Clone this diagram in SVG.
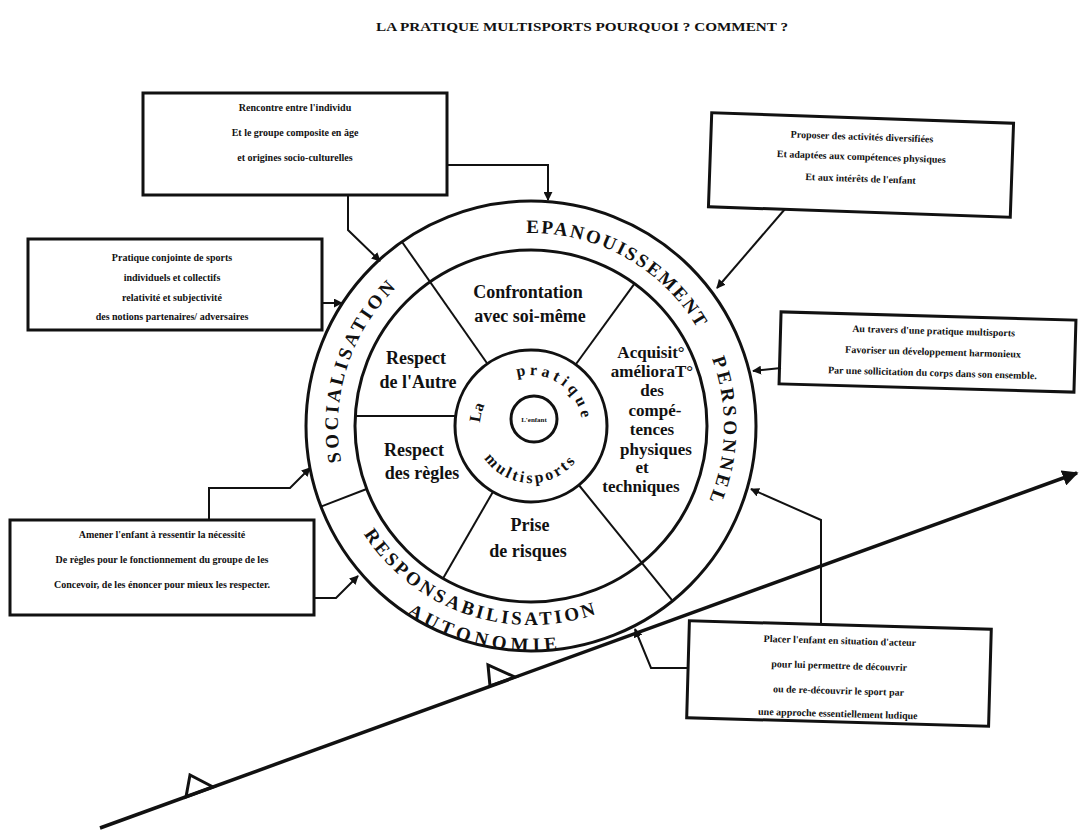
<svg xmlns="http://www.w3.org/2000/svg" width="1082" height="836" viewBox="0 0 1082 836">
<style>
.bg{fill:#fff}
.ring{fill:none;stroke:#111;stroke-width:3}
.dv{stroke:#111;stroke-width:2;fill:none}
.box{fill:#fff;stroke:#111;stroke-width:3}
.conn{fill:none;stroke:#111;stroke-width:2;marker-end:url(#ah)}
.t{font-family:"Liberation Serif","Times New Roman",serif;font-weight:bold;fill:#111}
.bt{font-size:10px;text-anchor:middle}
.sec{font-size:18px;text-anchor:middle}
.sec2{font-size:17px;text-anchor:middle}
.rg{font-size:19px}
.ir{font-size:16px}
</style>
<defs>
<marker id="ah" viewBox="0 0 10 10" refX="9" refY="5" markerWidth="9" markerHeight="9" markerUnits="userSpaceOnUse" orient="auto"><path d="M0,0 L10,5 L0,10 z" fill="#111"/></marker>
<marker id="bah" viewBox="0 0 10 10" refX="9" refY="5" markerWidth="16" markerHeight="16" markerUnits="userSpaceOnUse" orient="auto"><path d="M0,0 L10,5 L0,10 z" fill="#111"/></marker>
<path id="outCW" d="M531,619 A193,193 0 1 1 531,233 A193,193 0 1 1 531,619"/>
<path id="outCCW1" d="M531,227 A199,199 0 1 0 531,625 A199,199 0 1 0 531,227"/>
<path id="outCCW2" d="M531,201 A225,225 0 1 0 531,651 A225,225 0 1 0 531,201"/>
<path id="inCW" d="M531,477 A51,51 0 1 1 531,375 A51,51 0 1 1 531,477"/>
<path id="inCCW" d="M531,369 A57,57 0 1 0 531,483 A57,57 0 1 0 531,369"/>
</defs>
<rect class="bg" x="0" y="0" width="1082" height="836"/>

<text class="t" x="582" y="31" font-size="12.5" text-anchor="middle" textLength="412" lengthAdjust="spacingAndGlyphs">LA PRATIQUE MULTISPORTS POURQUOI ? COMMENT ?</text>

<g id="wheel">
<circle class="ring" cx="531" cy="426" r="225"/>
<circle class="ring" cx="531" cy="426" r="176"/>
<circle class="ring" cx="531" cy="426" r="76" stroke-width="2.5"/>
<circle class="ring" cx="534" cy="419" r="23" stroke-width="3.5"/>
<line class="dv" x1="487.4" y1="363.8" x2="401.9" y2="241.7"/>
<line class="dv" x1="575.7" y1="364.5" x2="634.5" y2="283.6"/>
<line class="dv" x1="578.8" y1="485" x2="672.6" y2="600.9"/>
<line class="dv" x1="493" y1="491.8" x2="443" y2="578.4"/>
<line class="dv" x1="455.7" y1="416" x2="355.3" y2="416"/>
<line class="dv" x1="366.6" y1="489" x2="320.9" y2="506.6"/>

<text class="t rg"><textPath href="#outCW" startOffset="362" text-anchor="middle" textLength="190" lengthAdjust="spacing">SOCIALISATION</textPath></text>
<text class="t rg"><textPath href="#outCW" startOffset="704" text-anchor="middle" textLength="205" lengthAdjust="spacing">EPANOUISSEMENT</textPath></text>
<text class="t rg"><textPath href="#outCW" startOffset="913" text-anchor="middle" textLength="145" lengthAdjust="spacing">PERSONNEL</textPath></text>
<text class="t rg"><textPath href="#outCCW1" startOffset="559" text-anchor="middle" textLength="265" lengthAdjust="spacing">RESPONSABILISATION</textPath></text>
<text class="t rg" font-size="18"><textPath href="#outCCW2" startOffset="654" text-anchor="middle" textLength="158" lengthAdjust="spacing">AUTONOMIE</textPath></text>

<text class="t ir"><textPath href="#inCW" startOffset="92.6" text-anchor="middle">La</textPath></text>
<text class="t ir"><textPath href="#inCW" startOffset="189" text-anchor="middle" textLength="86" lengthAdjust="spacing">pratique</textPath></text>
<text class="t ir"><textPath href="#inCCW" startOffset="176.6" text-anchor="middle" textLength="106" lengthAdjust="spacing">multisports</textPath></text>
<text class="t" x="534" y="422" font-size="7" text-anchor="middle">L'enfant</text>

<text class="t sec" x="528" y="298">Confrontation</text>
<text class="t sec" x="530" y="322">avec soi-même</text>
<text class="t sec" x="416" y="364">Respect</text>
<text class="t sec" x="418" y="388">de l'Autre</text>
<text class="t sec" x="414" y="456">Respect</text>
<text class="t sec" x="422" y="479">des règles</text>
<text class="t sec" x="530" y="531">Prise</text>
<text class="t sec" x="528" y="557">de risques</text>
<text class="t sec2" x="651" y="358">Acquisit°</text>
<text class="t sec2" x="652" y="377">amélioraT°</text>
<text class="t sec2" x="652" y="396">des</text>
<text class="t sec2" x="655" y="416">compé-</text>
<text class="t sec2" x="652" y="435">tences</text>
<text class="t sec2" x="656" y="455">physiques</text>
<text class="t sec2" x="642" y="473">et</text>
<text class="t sec2" x="641" y="492">techniques</text>
</g>

<g id="box1">
<rect class="box" x="143" y="93" width="304" height="102"/>
<text class="t bt" x="295" y="111">Rencontre entre l'individu</text>
<text class="t bt" x="295" y="136">Et le groupe composite en âge</text>
<text class="t bt" x="295" y="161">et origines socio-culturelles</text>
</g>
<g id="box2" transform="rotate(2 861 165)">
<rect class="box" x="710" y="118" width="302" height="94"/>
<text class="t bt" x="861" y="140">Proposer des activités diversifiées</text>
<text class="t bt" x="861" y="160">Et adaptées aux compétences physiques</text>
<text class="t bt" x="861" y="182">Et aux intérêts de l'enfant</text>
</g>
<g id="box3">
<rect class="box" x="28" y="239" width="294" height="91"/>
<text class="t bt" x="172" y="261">Pratique conjointe de sports</text>
<text class="t bt" x="172" y="281">individuels et collectifs</text>
<text class="t bt" x="172" y="301">relativité et subjectivité</text>
<text class="t bt" x="172" y="320">des notions partenaires/ adversaires</text>
</g>
<g id="box4" transform="rotate(1.6 927 352)">
<rect class="box" x="780" y="316" width="295" height="72"/>
<text class="t bt" x="933" y="334">Au travers d'une pratique multisports</text>
<text class="t bt" x="933" y="355">Favoriser un développement harmonieux</text>
<text class="t bt" x="933" y="376">Par une sollicitation du corps dans son ensemble.</text>
</g>
<g id="box5">
<rect class="box" x="10" y="520" width="304" height="95"/>
<text class="t bt" x="162" y="538">Amener l'enfant à ressentir la nécessité</text>
<text class="t bt" x="162" y="563">De règles pour le fonctionnement du groupe de les</text>
<text class="t bt" x="162" y="588">Concevoir, de les énoncer pour mieux les respecter.</text>
</g>
<g id="box6" transform="rotate(1.6 839 673)">
<rect class="box" x="688" y="625" width="302" height="97"/>
<text class="t bt" x="839" y="644">Placer l'enfant en situation d'acteur</text>
<text class="t bt" x="839" y="669">pour lui permettre de découvrir</text>
<text class="t bt" x="839" y="694">ou de re-découvrir le sport par</text>
<text class="t bt" x="839" y="717">une approche essentiellement ludique</text>
</g>

<g id="connectors">
<path class="conn" d="M348,195 L348,230 L380,261"/>
<path class="conn" d="M447,165 L548,165 L548,200"/>
<path class="conn" d="M785,209 L717,288"/>
<path class="conn" d="M322,303 L342,303"/>
<path class="conn" d="M781,368 L753,371"/>
<path class="conn" d="M209,520 L209,488 L290,488 L310,468"/>
<path class="conn" d="M314,598 L336,598 L358,576"/>
<path class="conn" d="M688,668 L651,668 L635,629"/>
<path class="conn" d="M821,625 L821,520 L751,489"/>
<path d="M100,828 L1077,473" fill="none" stroke="#111" stroke-width="3.5" marker-end="url(#bah)"/>
<polygon points="190,775 186,797 213,787" fill="none" stroke="#111" stroke-width="3"/>
<polygon points="488,665 490,686 515,677" fill="none" stroke="#111" stroke-width="3"/>
</g>
</svg>
